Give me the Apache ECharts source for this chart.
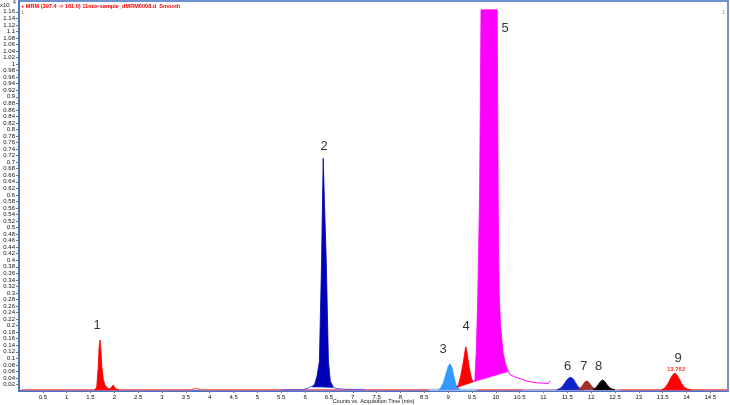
<!DOCTYPE html>
<html><head><meta charset="utf-8">
<script src="https://cdn.jsdelivr.net/npm/echarts@6/dist/echarts.min.js"></script>
<style>html,body{margin:0;padding:0;background:#fff}#c{width:730px;height:405px}</style>
</head><body><div id="c"></div>
<script>
// ---- tick labels ----
const xTicks = [0.5,1,1.5,2,2.5,3,3.5,4,4.5,5,5.5,6,6.5,7,7.5,8,8.5,9,9.5,10,10.5,11,11.5,12,12.5,13,13.5,14,14.5];
const yTicks = [0.02,0.04,0.06,0.08,0.1,0.12,0.14,0.16,0.18,0.2,0.22,0.24,0.26,0.28,0.3,0.32,0.34,0.36,0.38,0.4,
  0.42,0.44,0.46,0.48,0.5,0.52,0.54,0.56,0.58,0.6,0.62,0.64,0.66,0.68,0.7,0.72,0.74,0.76,0.78,0.8,
  0.82,0.84,0.86,0.88,0.9,0.92,0.94,0.96,0.98,1,1.02,1.04,1.06,1.08,1.1,1.12,1.14,1.16];

// ---- background traces ----
const redTraceT = [0.05,1.5,3.6,3.72,3.8,5.0,8.0,11.5,13.0,14.87];
const redTraceV = [0.004,0.004,0.004,0.008,0.004,0.004,0.004,0.004,0.004,0.004];
const purpleTraceT = [5.5,5.95,6.05,6.12,6.2,6.35,6.5,6.6,6.7,6.85,7.0,7.25];
const purpleTraceV = [0.004,0.004,0.008,0.014,0.015,0.014,0.012,0.01,0.007,0.005,0.005,0.005];
const lightBlueTraceT = [8.6,9.0,9.6];
const lightBlueTraceV = [0.004,0.004,0.004];
const lavenderTraceT = [10.55,10.8,11.2,11.3,12.6];
const lavenderTraceV = [0.003,0.003,0.003,0.003,0.003];
const magentaTraceT = [9.05,9.18,9.26,9.3,9.35,9.4,9.45,9.5,9.56];
const magentaTraceV = [0.004,0.008,0.03,0.05,0.06,0.055,0.04,0.03,0.03];
const magentaTailT = [10.26,10.3,10.4,10.52,10.65,10.86,11.0,11.1,11.14];
const magentaTailV = [0.06,0.05,0.043,0.037,0.03,0.025,0.024,0.023,0.031];

// ---- integrated peaks ----
const p1T = [1.59,1.63,1.66,1.68,1.70,1.72,1.74,1.77,1.8,1.84,1.88,1.92,1.95,1.98,2.0,2.04,2.1];
const p1V = [0.004,0.012,0.07,0.135,0.156,0.12,0.07,0.035,0.02,0.011,0.007,0.008,0.014,0.018,0.012,0.006,0.004];
const p2T = [6.15,6.2,6.25,6.3,6.345,6.38,6.41,6.445,6.49,6.53,6.59];
const p2V = [0.013,0.02,0.045,0.09,0.392,0.712,0.56,0.392,0.09,0.03,0.012];
const p3T = [8.8,8.85,8.9,8.95,9.0,9.04,9.08,9.12,9.16,9.2,9.25];
const p3V = [0.004,0.01,0.025,0.05,0.075,0.083,0.072,0.045,0.022,0.01,0.005];
const p4T = [9.18,9.22,9.27,9.32,9.36,9.375,9.4,9.44,9.48,9.51,9.53];
const p4V = [0.011,0.02,0.05,0.09,0.128,0.135,0.115,0.075,0.045,0.032,0.028];
const p5T = [9.56,9.59,9.62,9.66,9.69,10.03,10.05,10.07,10.1,10.15,10.2,10.26];
const p5V = [0.03,0.12,0.28,0.6,1.166,1.166,0.6,0.3,0.2,0.12,0.085,0.06];
const p6T = [11.28,11.35,11.42,11.48,11.53,11.57,11.62,11.67,11.72,11.78,11.84];
const p6V = [0.004,0.008,0.018,0.032,0.04,0.042,0.038,0.026,0.014,0.007,0.004];
const p7T = [11.72,11.78,11.83,11.87,11.91,11.95,12.0,12.05,12.1];
const p7V = [0.004,0.01,0.02,0.028,0.031,0.027,0.017,0.009,0.005];
const p8T = [12.04,12.1,12.15,12.2,12.24,12.28,12.33,12.38,12.44,12.5];
const p8V = [0.004,0.01,0.02,0.03,0.034,0.03,0.02,0.011,0.006,0.004];
const p9T = [13.48,13.55,13.62,13.68,13.72,13.76,13.8,13.85,13.9,13.96,14.02,14.1];
const p9V = [0.004,0.01,0.025,0.043,0.051,0.054,0.05,0.037,0.022,0.011,0.006,0.004];

const peakNames = ['1','2','3','4','5','6','7','8','9'];
const rtLabel9 = '13.762';

const FONT = 'Liberation Sans, Arial, sans-serif';
const AXIS_BLUE = '#3d6fc6';

function pairs(T, V) { return T.map((t, i) => [t, V[i]]); }

function trace(T, V, color, width) {
  return { type: 'line', data: pairs(T, V), symbol: 'none', silent: true, z: 1,
    lineStyle: { color, width: width || 1 } };
}

// filled peak: polygon of the curve, closed by the straight integration baseline
function peak(T, V, color) {
  return {
    type: 'custom', data: pairs(T, V), silent: true, z: 3,
    renderItem: function (params, api) {
      if (params.dataIndexInside !== 0) return null;
      const pts = [];
      for (let i = 0; i < params.dataInsideLength; i++) {
        pts.push(api.coord([api.value(0, i), api.value(1, i)]));
      }
      return { type: 'polygon', shape: { points: pts },
        style: { fill: color, stroke: color, lineWidth: 0.8 } };
    }
  };
}

function apex(T, V) {
  let k = 0;
  for (let i = 1; i < V.length; i++) if (V[i] > V[k]) k = i;
  return [T[k], V[k]];
}

const peaks = [
  [p1T, p1V, '#ff0000', [-3, -15]],
  [p2T, p2V, '#0000b4', [1, -12]],
  [p3T, p3V, '#3399ff', [-7, -14]],
  [p4T, p4V, '#ff0000', [0, -20]],
  [p5T, p5V, '#ff00ff', [24, 19]],
  [p6T, p6V, '#0a22c8', [-3, -11]],
  [p7T, p7V, '#a0302c', [-3, -14]],
  [p8T, p8V, '#000000', [-4, -13]],
  [p9T, p9V, '#ff0000', [3, -15]]
];

const series = [
  trace(redTraceT, redTraceV, '#ff7070', 1.5),
  trace(purpleTraceT, purpleTraceV, '#5a5af0', 1),
  trace(lightBlueTraceT, lightBlueTraceV, '#a8c8f0', 2),
  trace(lavenderTraceT, lavenderTraceV, '#b4b4e4', 1.5),
  trace(magentaTraceT, magentaTraceV, '#ff00ff', 1),
  trace(magentaTailT, magentaTailV, '#ff00ff', 1)
];
peaks.forEach(p => series.push(peak(p[0], p[1], p[2])));

const labelData = peaks.map((p, i) => ({
  value: apex(p[0], p[1]),
  label: { show: true, position: 'inside', formatter: peakNames[i], offset: p[3],
    color: '#000', fontSize: 13, fontFamily: FONT }
}));
const a9 = apex(p9T, p9V);
labelData.push({ value: a9, label: { show: true, position: 'inside', formatter: rtLabel9,
  offset: [1, -4], color: '#ff0000', fontSize: 6, fontWeight: 'bold', fontFamily: FONT } });
series.push({ type: 'scatter', data: labelData, symbolSize: 0, silent: true, z: 5 });

const chart = echarts.init(document.getElementById('c'), null, { renderer: 'canvas' });
chart.setOption({
  animation: false,
  backgroundColor: '#ffffff',
  grid: { left: 19, right: 2, top: 1, bottom: 14, show: true, borderColor: AXIS_BLUE, borderWidth: 1.5,
    outerBoundsMode: 'none', containLabel: false },
  xAxis: {
    type: 'value', min: 0, max: 14.87,
    name: 'Counts vs. Acquisition Time (min)', nameLocation: 'middle', nameGap: 7,
    nameMoveOverlap: false,
    nameTextStyle: { fontSize: 5.5, color: '#111', fontFamily: FONT },
    axisLine: { lineStyle: { color: AXIS_BLUE, width: 1.5 } },
    axisTick: { show: true, length: 2, lineStyle: { color: '#777' }, customValues: xTicks },
    axisLabel: { fontSize: 6, color: '#111', margin: 3, fontFamily: FONT, customValues: xTicks,
      formatter: v => String(v) },
    splitLine: { show: false }
  },
  yAxis: {
    type: 'value', min: 0, max: 1.193,
    axisLine: { show: true, lineStyle: { color: AXIS_BLUE, width: 1.5 } },
    axisTick: { show: true, length: 3, lineStyle: { color: '#777' }, customValues: yTicks },
    axisLabel: { fontSize: 6, color: '#111', margin: 4, fontFamily: FONT, customValues: yTicks,
      formatter: v => String(v) },
    splitLine: { show: false }
  },
  graphic: [
    { type: 'text', left: 0, top: 2, style: { text: 'x10', fill: '#222', font: '6px ' + FONT } },
    { type: 'text', left: 13, top: 0, style: { text: '4', fill: '#222', font: '5px ' + FONT } },
    { type: 'text', left: 21, top: 3, style: { text: '+ MRM (397.4 -> 161.0) 11mix-sample_dMRM0008.d  Smooth',
      fill: '#ff0000', font: 'bold 5.6px ' + FONT } },
    { type: 'text', left: 21, top: 9, style: { text: '1', fill: '#999', font: '6px ' + FONT } },
    { type: 'text', left: 722, top: 9, style: { text: '1', fill: '#999', font: '6px ' + FONT } }
  ],
  series: series
});
</script>
</body></html>
